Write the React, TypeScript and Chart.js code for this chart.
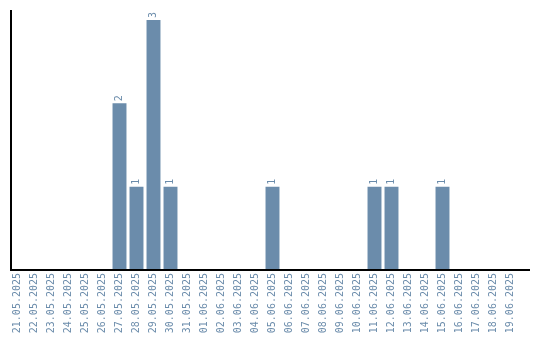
import React, { useEffect, useRef } from "react";
import { Chart, registerables } from "chart.js";

Chart.register(...registerables);

const dates: string[] = [
  "21.05.2025", "22.05.2025", "23.05.2025", "24.05.2025", "25.05.2025", "26.05.2025",
  "27.05.2025", "28.05.2025", "29.05.2025", "30.05.2025", "31.05.2025", "01.06.2025",
  "02.06.2025", "03.06.2025", "04.06.2025", "05.06.2025", "06.06.2025", "07.06.2025",
  "08.06.2025", "09.06.2025", "10.06.2025", "11.06.2025", "12.06.2025", "13.06.2025",
  "14.06.2025", "15.06.2025", "16.06.2025", "17.06.2025", "18.06.2025", "19.06.2025",
];
const counts: number[] = [
  0, 0, 0, 0, 0, 0,
  2, 1, 3, 1, 0, 0,
  0, 0, 0, 1, 0, 0,
  0, 0, 0, 1, 1, 0,
  0, 1, 0, 0, 0, 0,
];

const BAR_COLOR = "#6b8cab";
const FONT = "'DejaVu Sans Mono', monospace";

const overlay = {
  id: "overlay",
  afterDatasetsDraw(chart: any) {
    const ctx = chart.ctx;
    const meta = chart.getDatasetMeta(0);
    ctx.save();
    ctx.fillStyle = BAR_COLOR;
    ctx.font = `10px ${FONT}`;
    ctx.textAlign = "left";
    ctx.textBaseline = "middle";
    meta.data.forEach((el: any, i: number) => {
      const v = counts[i];
      if (!v) return;
      ctx.save();
      ctx.translate(el.x, el.y - 2);
      ctx.rotate(-Math.PI / 2);
      ctx.fillText(String(v), 0, 0);
      ctx.restore();
    });
    // axes
    const { left, bottom } = chart.chartArea;
    ctx.fillStyle = "#000";
    ctx.fillRect(10, 10, 2, bottom - 10 + 1);
    ctx.fillRect(10, bottom - 1, 520, 2);
    ctx.restore();
  },
};

export default function App() {
  const ref = useRef<HTMLCanvasElement | null>(null);
  useEffect(() => {
    if (!ref.current) return;
    const chart = new Chart(ref.current, {
      type: "bar",
      data: {
        labels: dates,
        datasets: [
          {
            data: counts,
            backgroundColor: BAR_COLOR,
            borderWidth: 0,
            barPercentage: 0.82,
            categoryPercentage: 1,
          },
        ],
      },
      options: {
        animation: false,
        responsive: false,
        maintainAspectRatio: false,
        layout: { padding: { left: 9, right: 21, top: 10, bottom: 0 } },
        plugins: { legend: { display: false }, tooltip: { enabled: false } },
        scales: {
          x: {
            grid: { display: false, drawTicks: false },
            border: { display: false },
            afterFit: (s: any) => {
              s.height = 70;
            },
            ticks: {
              autoSkip: false,
              minRotation: 90,
              maxRotation: 90,
              padding: 3,
              color: BAR_COLOR,
              font: { family: FONT, size: 10 },
            },
          },
          y: {
            display: false,
            min: 0,
            max: 3.12,
          },
        },
      },
      plugins: [overlay],
    });
    return () => chart.destroy();
  }, []);
  return (
    <div style={{ position: "fixed", left: 0, top: 0, width: 540, height: 340, background: "#fff" }}>
      <canvas ref={ref} width={540} height={340} style={{ width: 540, height: 340 }} />
    </div>
  );
}
